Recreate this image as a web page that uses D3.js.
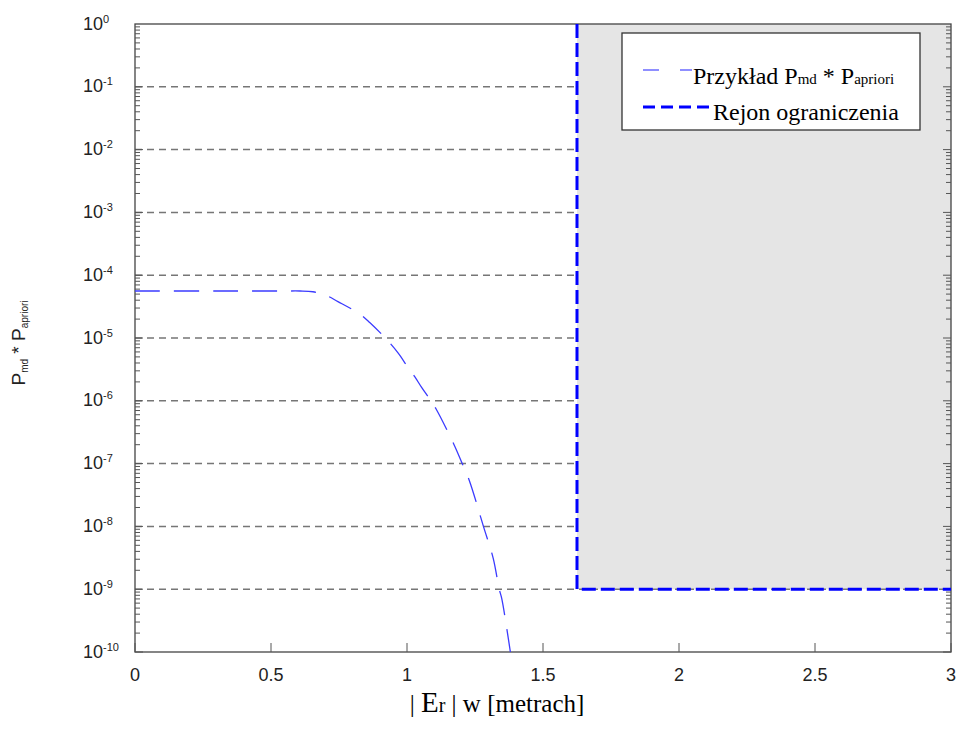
<!DOCTYPE html>
<html><head><meta charset="utf-8">
<script src="https://cdn.jsdelivr.net/npm/d3@7"></script>
<style>body{margin:0;background:#fff}svg{display:block}</style>
</head><body>
<svg id="c" width="959" height="729"></svg>
<script>
// ---- data ----
const curveX = [0, 0.3, 0.55, 0.607, 0.654, 0.699, 0.746, 0.827, 0.864, 0.930, 0.967, 1.0, 1.029, 1.055, 1.088, 1.107, 1.173, 1.203, 1.229, 1.281, 1.317, 1.339, 1.348, 1.372, 1.38];
const curveY = [5.6e-5, 5.6e-5, 5.6e-5, 5.6e-5, 5.45e-5, 4.85e-5, 3.8e-5, 2.4e-5, 1.75e-5, 9e-6, 5.8e-6, 3.6e-6, 2.4e-6, 1.6e-6, 1.0e-6, 7.4e-7, 2.0e-7, 1.0e-7, 5.4e-8, 1.0e-8, 3.1e-9, 1.0e-9, 7.2e-10, 1.7e-10, 1.0e-10];
const regionX = [1.625, 1.625, 3];
const regionY = [1, 1e-9, 1e-9];
const xTicks = [0, 0.5, 1, 1.5, 2, 2.5, 3];
const xTickLabels = ["0", "0.5", "1", "1.5", "2", "2.5", "3"];
const yExponents = [0, -1, -2, -3, -4, -5, -6, -7, -8, -9, -10];
const legendLabels = ["Przykład", "Rejon ograniczenia"];

const svg = d3.select("#c");
const L = 135, R = 951, T = 24, B = 652;
const x = d3.scaleLinear().domain([0, 3]).range([L, R]);
const y = d3.scaleLog().domain([1e-10, 1]).range([B, T]);
const sans = "'Liberation Sans', Arial, sans-serif";
const serif = "'Liberation Serif', 'Times New Roman', serif";

// shaded region
svg.append("path")
  .attr("d", `M${x(regionX[0])},${y(regionY[0])}L${x(regionX[1])},${y(regionY[1])}L${x(regionX[2])},${y(regionY[2])}L${x(3)},${y(1)}Z`)
  .attr("fill", "#e5e5e5");

// grid lines
yExponents.filter(e => e < 0 && e > -10).forEach(e => {
  const v = Math.pow(10, e);
  const xe = (v > 1e-9) ? x(regionX[0]) : x(3);
  svg.append("line").attr("x1", L).attr("x2", xe).attr("y1", y(v)).attr("y2", y(v))
    .attr("stroke", "#767676").attr("stroke-width", 1.5).attr("stroke-dasharray", "7,5");
});

// axes frame
svg.append("rect").attr("x", L).attr("y", T).attr("width", R - L).attr("height", B - T)
  .attr("fill", "none").attr("stroke", "#444").attr("stroke-width", 1.3);

// y minor/major ticks
const tg = svg.append("g").attr("stroke", "#555").attr("stroke-width", 1);
for (let e = -10; e < 0; e++) {
  for (let m = 1; m <= 9; m++) {
    const v = m * Math.pow(10, e);
    const len = m === 1 ? 8 : 5;
    tg.append("line").attr("x1", L).attr("x2", L + len).attr("y1", y(v)).attr("y2", y(v));
    tg.append("line").attr("x1", R).attr("x2", R - len).attr("y1", y(v)).attr("y2", y(v));
  }
}
// x ticks
xTicks.forEach(t => {
  tg.append("line").attr("x1", x(t)).attr("x2", x(t)).attr("y1", B).attr("y2", B - 9);
});

// x tick labels
xTicks.forEach((t, i) => {
  svg.append("text").attr("x", x(t)).attr("y", 681).attr("text-anchor", "middle")
    .attr("font-family", sans).attr("font-size", 18).attr("fill", "#222")
    .text(xTickLabels[i]);
});
// y tick labels
yExponents.forEach(e => {
  const t = svg.append("text").attr("x", 103).attr("y", y(Math.pow(10, e)) + 5.5).attr("text-anchor", "start")
    .attr("font-family", sans).attr("font-size", 18).attr("fill", "#222");
  t.append("tspan").text("10");
  t.append("tspan").attr("dy", -7).attr("font-size", 11).text(String(e));
  const w = t.select("tspan").node().getComputedTextLength();
  t.attr("x", 103 - w);
});

// curve
const line = d3.line().x(d => x(d[0])).y(d => y(d[1])).curve(d3.curveCatmullRom.alpha(0.5));
svg.append("path").datum(curveX.map((v, i) => [v, curveY[i]]))
  .attr("d", line).attr("fill", "none").attr("stroke", "#3b3bff").attr("stroke-width", 1.3)
  .attr("stroke-dasharray", "25,14");

// region boundary
svg.append("path").datum(regionX.map((v, i) => [v, regionY[i]]))
  .attr("d", d3.line().x(d => x(d[0])).y(d => y(d[1])))
  .attr("fill", "none").attr("stroke", "#0000ff").attr("stroke-width", 3)
  .attr("stroke-dasharray", "14,5");

// legend
const lg = svg.append("g");
lg.append("rect").attr("x", 622).attr("y", 33).attr("width", 298).attr("height", 97)
  .attr("fill", "#fff").attr("stroke", "#333").attr("stroke-width", 1.3);
lg.append("line").attr("x1", 643).attr("x2", 692).attr("y1", 70).attr("y2", 70)
  .attr("stroke", "#6b6bff").attr("stroke-width", 1.3).attr("stroke-dasharray", "16,21");
lg.append("line").attr("x1", 643).attr("x2", 710).attr("y1", 107).attr("y2", 107)
  .attr("stroke", "#0000ff").attr("stroke-width", 3).attr("stroke-dasharray", "12,6");
const t1 = lg.append("text").attr("x", 693).attr("y", 84)
  .attr("font-family", serif).attr("font-size", 24).attr("fill", "#000");
t1.append("tspan").text(legendLabels[0] + " P");
t1.append("tspan").attr("font-size", 15).text("md");
t1.append("tspan").text(" * P");
t1.append("tspan").attr("font-size", 15).text("apriori");
lg.append("text").attr("x", 713).attr("y", 120)
  .attr("font-family", serif).attr("font-size", 24).attr("fill", "#000")
  .text(legendLabels[1]);

// x axis label
const xl = svg.append("text").attr("x", 497).attr("y", 712).attr("text-anchor", "middle")
  .attr("font-family", serif).attr("font-size", 25).attr("fill", "#000");
xl.append("tspan").text("| ");
xl.append("tspan").attr("font-size", 29).text("E");
xl.append("tspan").attr("font-size", 20).text("r");
xl.append("tspan").text(" | w [metrach]");

// y axis label
const yl = svg.append("text").attr("transform", "translate(25,343) rotate(-90)").attr("text-anchor", "middle")
  .attr("font-family", sans).attr("font-size", 19).attr("fill", "#222");
yl.append("tspan").text("P");
yl.append("tspan").attr("font-size", 10).attr("dy", 3).text("md");
yl.append("tspan").attr("dy", -3).text(" * P");
yl.append("tspan").attr("font-size", 10).attr("dy", 3).text("apriori");
</script>
</body></html>
